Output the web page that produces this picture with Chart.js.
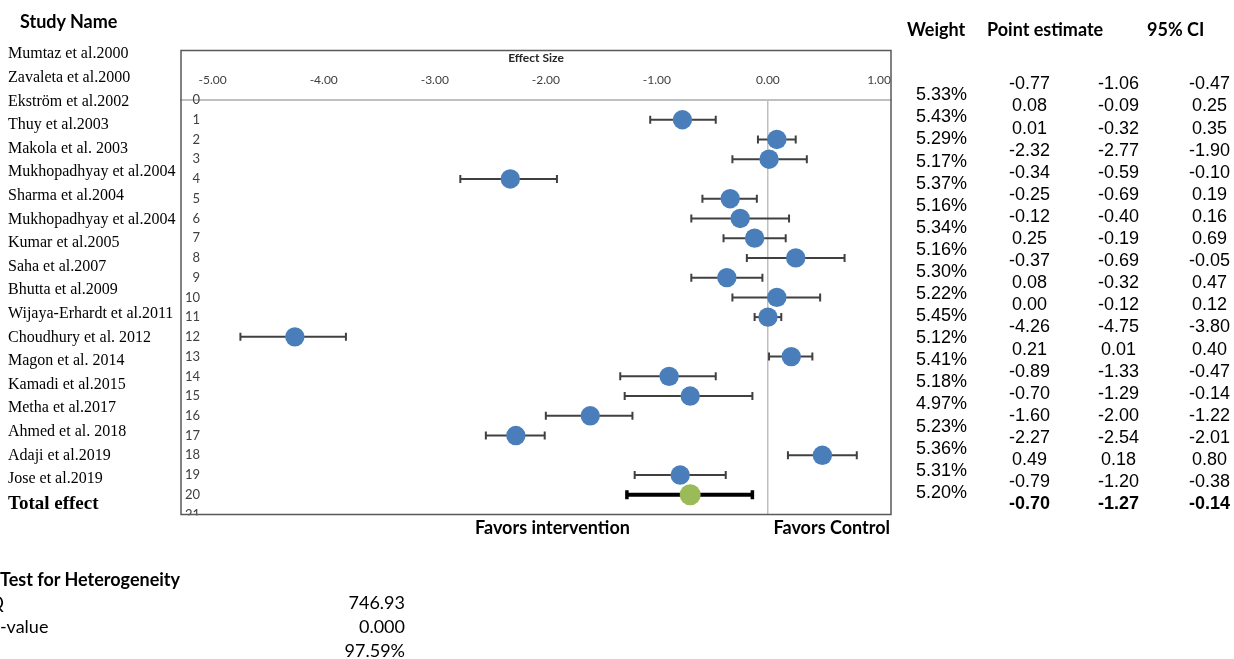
<!DOCTYPE html>
<html>
<head>
<meta charset="utf-8">
<script src="https://cdn.jsdelivr.net/npm/chart.js@4.4.1/dist/chart.umd.min.js"></script>
<style>
html,body{margin:0;padding:0;background:#fff;width:1234px;height:659px;overflow:hidden;}
#wrap{position:relative;width:1234px;height:659px;overflow:hidden;}
#c{position:absolute;left:0;top:0;}
.t{position:absolute;white-space:nowrap;line-height:1;color:#000;}
.serif{font-family:"Liberation Serif","Times New Roman",serif;font-size:16px;}
.serifb{font-family:"Liberation Serif","Times New Roman",serif;font-size:19px;font-weight:bold;}
.cal{font-family:Lato,"Open Sans",sans-serif;font-size:18px;}
.calb{font-family:Lato,"Open Sans",sans-serif;font-size:18px;font-weight:bold;}
.ar{font-family:"Liberation Sans",Arial,sans-serif;font-size:18px;}
.arb{font-family:"Liberation Sans",Arial,sans-serif;font-size:18px;font-weight:bold;}
</style>
</head>
<body>
<div id="wrap"><canvas id="c" width="1234" height="659"></canvas></div>
<script>
// ---- data ----
const studyNames = ["Mumtaz et al.2000","Zavaleta et al.2000","Ekström et al.2002","Thuy et al.2003","Makola et al. 2003","Mukhopadhyay et al.2004","Sharma et al.2004","Mukhopadhyay et al.2004","Kumar et al.2005","Saha et al.2007","Bhutta et al.2009","Wijaya-Erhardt et al.2011","Choudhury et al. 2012","Magon et al. 2014","Kamadi et al.2015","Metha et al.2017","Ahmed et al. 2018","Adaji et al.2019","Jose et al.2019"];
const totalLabel = "Total effect";
const weights = [5.33,5.43,5.29,5.17,5.37,5.16,5.34,5.16,5.30,5.22,5.45,5.12,5.41,5.18,4.97,5.23,5.36,5.31,5.20];
const pointEst = [-0.77,0.08,0.01,-2.32,-0.34,-0.25,-0.12,0.25,-0.37,0.08,0.00,-4.26,0.21,-0.89,-0.70,-1.60,-2.27,0.49,-0.79];
const ciLow = [-1.06,-0.09,-0.32,-2.77,-0.59,-0.69,-0.40,-0.19,-0.69,-0.32,-0.12,-4.75,0.01,-1.33,-1.29,-2.00,-2.54,0.18,-1.20];
const ciHigh = [-0.47,0.25,0.35,-1.90,-0.10,0.19,0.16,0.69,-0.05,0.47,0.12,-3.80,0.40,-0.47,-0.14,-1.22,-2.01,0.80,-0.38];
const totalEst = -0.70, totalLow = -1.27, totalHigh = -0.14;
const xTicks = [-5,-4,-3,-2,-1,0,1];
const yTickLabels = ["0","1","2","3","4","5","6","7","8","9","10","11","12","13","14","15","16","17","18","19","20","21"];
const hetLabels = ["Q","P-value","I²"];
const hetValues = ["746.93","0.000","97.59%"];
const headers = ["Weight","Point estimate","95% CI"];

// ---- text layout ----
const wrap = document.getElementById('wrap');
function place(text, x, y, cls, align){
  const d = document.createElement('div');
  d.className = 't ' + cls;
  d.textContent = text;
  d.style.left = x + 'px';
  d.style.top = y + 'px';
  const tx = align === 'center' ? '-50%' : (align === 'right' ? '-100%' : '0');
  d.style.transform = 'translate(' + tx + ',-50%)';
  wrap.appendChild(d);
}
place("Study Name", 20, 21, 'calb', 'left');
studyNames.forEach((n,i)=>place(n, 8, 53.3 + i*23.6, 'serif', 'left'));
place(totalLabel, 8, 53.3 + studyNames.length*23.6, 'serifb', 'left');

place(headers[0], 907, 28.5, 'calb', 'left');
place(headers[1], 987, 28.5, 'calb', 'left');
place(headers[2], 1147, 28.5, 'calb', 'left');
weights.forEach((w,i)=>place(w.toFixed(2)+'%', 967, 94.3 + i*22.08, 'ar', 'right'));
pointEst.forEach((v,i)=>{
  const y = 83.3 + i*22.1;
  place(v.toFixed(2), 1029.5, y, 'ar', 'center');
  place(ciLow[i].toFixed(2), 1118.5, y, 'ar', 'center');
  place(ciHigh[i].toFixed(2), 1209.5, y, 'ar', 'center');
});
const yt = 83.3 + pointEst.length*22.1;
place(totalEst.toFixed(2), 1029.5, yt, 'arb', 'center');
place(totalLow.toFixed(2), 1118.5, yt, 'arb', 'center');
place(totalHigh.toFixed(2), 1209.5, yt, 'arb', 'center');

place("Favors intervention", 475, 527, 'calb', 'left');
place("Favors Control", 890, 527, 'calb', 'right');

place("Test for Heterogeneity", 0, 578.5, 'calb', 'left');
hetLabels.forEach((l,i)=>place(l, -10.5, 602 + i*23.8, 'cal', 'left'));
hetValues.forEach((v,i)=>place(v, 405, 602 + i*23.8, 'cal', 'right'));

// ---- chart ----
const errorBars = {
  id:'errorBars',
  beforeDatasetsDraw(chart){
    const {ctx, scales:{x,y}} = chart;
    ctx.save();
    const draw = (lo,hi,row,color,lw,capW,cap)=>{
      const yy = y.getPixelForValue(row), x1 = x.getPixelForValue(lo), x2 = x.getPixelForValue(hi);
      ctx.strokeStyle = color; ctx.lineWidth = lw;
      ctx.beginPath(); ctx.moveTo(x1,yy); ctx.lineTo(x2,yy); ctx.stroke();
      ctx.lineWidth = capW;
      ctx.beginPath();
      ctx.moveTo(x1,yy-cap); ctx.lineTo(x1,yy+cap);
      ctx.moveTo(x2,yy-cap); ctx.lineTo(x2,yy+cap);
      ctx.stroke();
    };
    ciLow.forEach((lo,i)=>draw(lo, ciHigh[i], i+1, '#404040', 2, 2, 4));
    draw(totalLow, totalHigh, ciLow.length+1, '#000000', 4, 3.5, 4.5);
    ctx.restore();
  }
};
const frame = {
  id:'frame',
  afterDraw(chart){
    const {ctx, chartArea:a} = chart;
    ctx.save();
    ctx.fillStyle = '#fff';
    ctx.fillRect(a.left+1, a.bottom+1, 24, 10);
    ctx.strokeStyle = '#595959';
    ctx.lineWidth = 1.5;
    ctx.strokeRect(a.left, 50.5, a.right - a.left, a.bottom - 50.5);
    ctx.restore();
  }
};

new Chart(document.getElementById('c'), {
  type:'scatter',
  data:{datasets:[
    {label:'Studies', data: pointEst.map((v,i)=>({x:v, y:i+1})), backgroundColor:'#4A7EBB', borderWidth:0, pointRadius:9.7, pointHoverRadius:9.7},
    {label:totalLabel, data:[{x:totalEst, y:pointEst.length+1}], backgroundColor:'#9BBB59', borderWidth:0, pointRadius:10.5, pointHoverRadius:10.5}
  ]},
  options:{
    responsive:false, animation:false, events:[],
    layout:{padding:{left:181, top:50, right:343, bottom:144.5}},
    plugins:{legend:{display:false}, tooltip:{enabled:false}},
    scales:{
      x:{type:'linear', position:'top', min:-5.285, max:1.108,
        afterBuildTicks:s=>{ s.ticks = xTicks.map(v=>({value:v})); },
        afterFit:s=>{ s.height = 50; },
        grid:{drawTicks:false, lineWidth:1.5, color:c=> (c.tick && c.tick.value===0) ? '#BFBFBF' : 'rgba(0,0,0,0)'},
        border:{display:true, color:'#BFBFBF', width:2},
        ticks:{font:{family:'Lato', size:12}, color:'#404040', padding:13, maxRotation:0, autoSkip:false, callback:v=>Number(v).toFixed(2)},
        title:{display:true, text:'Effect Size', font:{family:'Lato', size:12, weight:'bold'}, color:'#262626', padding:{top:1, bottom:0}}
      },
      y:{type:'linear', reverse:true, min:0, max:21,
        afterBuildTicks:s=>{ s.ticks = yTickLabels.map((l,i)=>({value:i})); },
        afterFit:s=>{ s.width = 0; },
        grid:{display:false}, border:{display:false},
        ticks:{mirror:true, crossAlign:'far', padding:4, autoSkip:false, font:{family:'Lato', size:13}, color:'#404040', callback:(v,i)=>yTickLabels[i]}
      }
    }
  },
  plugins:[errorBars, frame]
});
</script>
</body>
</html>
